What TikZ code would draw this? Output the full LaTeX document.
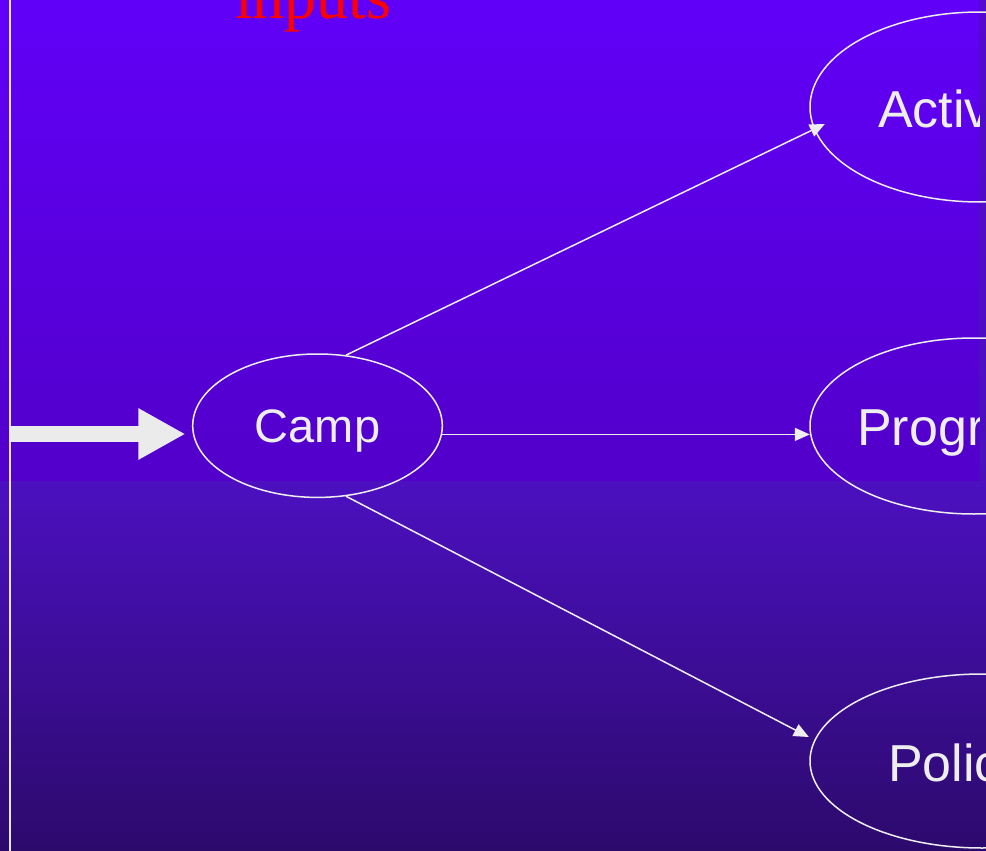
\documentclass[tikz,border=0pt]{standalone}
\usepackage{fontspec}
\setmainfont{Liberation Serif}
\setsansfont{Liberation Sans}
\usetikzlibrary{arrows.meta,shapes.geometric,calc}

\definecolor{skyTop}{RGB}{97,0,248}
\definecolor{skyBot}{RGB}{82,0,202}
\definecolor{stripTop}{RGB}{82,10,206}
\definecolor{stripBot}{RGB}{75,16,190}
\definecolor{lowTop}{RGB}{76,16,192}
\definecolor{lowBot}{RGB}{44,10,108}
\definecolor{inkLight}{RGB}{238,238,238}
\definecolor{fatInk}{RGB}{235,235,235}
\definecolor{railInk}{RGB}{232,228,244}

\begin{document}
\begin{tikzpicture}[x=1pt,y=-1pt,
  bubble/.style={ellipse, draw=inkLight, line width=1.5pt, inner sep=0pt},
  bubtext/.style={text=inkLight, inner sep=0pt,
    font=\sffamily\fontsize{52}{60}\selectfont},
  link/.style={draw=inkLight, line width=1.5pt,
    -{Triangle[length=15pt,width=13pt]}},
  fatlink/.style={draw=fatInk, line width=15.7pt,
    -{Triangle[length=47pt,width=48pt]}}]

\useasboundingbox (0,0) rectangle (986,851);
\clip (0,0) rectangle (986,851);

% background layers
\shade[top color=lowTop, bottom color=lowBot] (0,480) rectangle (986,851);
\shade[top color=stripTop, bottom color=stripBot] (979,0) rectangle (986,480);
\shade[top color=skyTop, bottom color=skyBot] (0,0) rectangle (979,480);

% left rail
\coordinate (railtop) at (10,0);
\coordinate (railbot) at (10,851);
\draw[railInk, line width=2pt] (railtop) -- (railbot);

% heading
\node[anchor=base west, inner sep=0pt, text=red,
  font=\rmfamily\fontsize{64}{72}\selectfont] (inputs) at (235,18.3) {inputs};

% central bubble
\node[bubble, minimum width=249.6pt, minimum height=143.4pt,
  text=inkLight, text depth=0pt,
  font=\sffamily\fontsize{47}{56}\selectfont] (camp) at (317.5,425.7) {Camp};

% outcome bubbles
\node[ellipse, inner sep=0pt, minimum width=340pt, minimum height=190pt] (activ) at (980,107) {};
\node[ellipse, inner sep=0pt, minimum width=328pt, minimum height=176pt] (progr) at (974,426) {};
\node[ellipse, inner sep=0pt, minimum width=344pt, minimum height=174pt] (polic) at (982,761) {};

\begin{scope}
  \clip (0,0) rectangle (979,480);
  \node[bubtext, anchor=base west] (activlbl) at (878,127.7) {Activ};
  \node[bubtext, anchor=base west] (progrlbl) at (857,445) {Progr};
\end{scope}
\node[bubtext, anchor=base west] (poliylbl) at (888,781.7) {Polic};

\draw[inkLight, line width=1.5pt] (activ.center) ellipse [x radius=170, y radius=95];
\draw[inkLight, line width=1.5pt] (progr.center) ellipse [x radius=164, y radius=88];
\draw[inkLight, line width=1.5pt] (polic.center) ellipse [x radius=172, y radius=87];

% connectors
\draw[link] (camp.68.4) -- ([shift={(15,17)}]activ.west);
\draw[link] (camp.-4) -- (camp.-4 -| progr.west);
\draw[link] (camp.-68.4) -- ([shift={(-1,-24)}]polic.west);

% incoming arrow
\coordinate (feed) at (10,434);
\draw[fatlink, shorten >=6.5pt] (feed) -- (feed -| camp.west);

\end{tikzpicture}
\end{document}
